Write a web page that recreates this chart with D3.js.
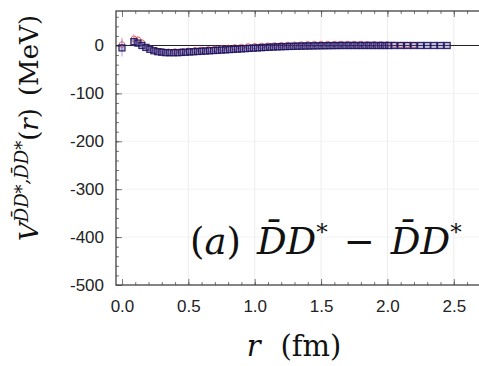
<!DOCTYPE html>
<html>
<head>
<meta charset="utf-8">
<script src="https://cdn.jsdelivr.net/npm/d3@7"></script>
<style>
  body { margin: 0; background: #fff; }
  .tick text { font-family: "Liberation Sans", Arial, sans-serif; }
</style>
</head>
<body>
<svg id="chart" width="479" height="366"></svg>
<script>
// blue series (D̄D* - D̄D*), r in fm, V in MeV
var rBlue = [0.00, 0.09, 0.12, 0.15, 0.18, 0.21, 0.24, 0.27, 0.30, 0.33, 0.36, 0.39, 0.42, 0.45, 0.48,
  0.51, 0.54, 0.57, 0.60, 0.63, 0.66, 0.69, 0.72, 0.75, 0.78, 0.81, 0.84, 0.87, 0.90, 0.93,
  0.96, 0.99, 1.02, 1.05, 1.08, 1.11, 1.14, 1.17, 1.20, 1.23, 1.26, 1.29, 1.32, 1.35, 1.38,
  1.41, 1.44, 1.47, 1.50, 1.53, 1.56, 1.59, 1.62, 1.65, 1.68, 1.71, 1.74, 1.77, 1.80, 1.83,
  1.86, 1.89, 1.92, 1.95, 1.98, 2.01, 2.05, 2.10, 2.15, 2.20, 2.25, 2.30, 2.35, 2.40, 2.45];
var vBlue = [-5, 8, 5, 0, -4, -8, -11, -13, -14, -15, -15, -15, -15, -14.5, -14,
  -13.5, -13, -12.5, -12, -11.5, -11, -10.5, -10, -9.5, -9, -8.5, -8, -7.5, -7, -6.5,
  -6, -5.5, -5, -4.5, -4, -3.6, -3.2, -2.8, -2.5, -2.2, -2, -1.8, -1.5, -1.3, -1.1,
  -1, -0.8, -0.6, -0.5, -0.4, -0.3, -0.2, -0.1, 0, 0, 0, 0, 0, 0, 0,
  0, 0, 0, 0, 0, 0, 0, 0, 0, 0, 0, 0, 0, 0, 0];
var eBlue = [18, 10, 8, 6, 5, 4, 3, 3, 2, 2];

// red series
var rRed = [0.00, 0.09, 0.12, 0.15, 0.20, 0.25, 0.30, 0.35, 0.40, 0.45, 0.50, 0.55, 0.60, 0.65, 0.70,
  0.75, 0.80, 0.85, 0.90, 0.95, 1.00, 1.05, 1.10, 1.15, 1.20, 1.25, 1.30, 1.35, 1.40, 1.45,
  1.50, 1.55, 1.60, 1.65, 1.70, 1.75, 1.80, 1.85, 1.90, 1.95, 2.00, 2.05, 2.10, 2.15, 2.20];
var vRed = [2, 14, 12, 6, -4, -10, -12, -13, -12.5, -12, -11, -10, -9, -8, -7,
  -6, -5, -4, -3, -2, -1.5, -1, -0.5, 0, 0.5, 1, 1.5, 2, 2.5, 3,
  3, 3, 3, 3, 3, 3, 3, 2.5, 2.5, 2, 2, 1.5, 1, 1, 0.5];
var eRed = [15, 10, 8, 6, 4, 3, 3, 2];

var xTicks = [0, 0.5, 1.0, 1.5, 2.0, 2.5];
var yTicks = [0, -100, -200, -300, -400, -500];

var svg = d3.select("#chart");
var L = 116, T = 11, R = 481, B = 285;

var x = d3.scaleLinear().domain([-0.045, 2.705]).range([L, R]);
var y = d3.scaleLinear().domain([-500, 72]).range([B, T]);

// faint grid
var grid = svg.append("g");
grid.selectAll(".vg").data(xTicks.slice(1)).enter().append("line")
  .attr("x1", function(d){ return x(d); }).attr("x2", function(d){ return x(d); })
  .attr("y1", T).attr("y2", B)
  .style("stroke", "#ececec").style("stroke-width", 1);
grid.selectAll(".hg").data(yTicks.slice(1, -1)).enter().append("line")
  .attr("x1", L).attr("x2", R)
  .attr("y1", function(d){ return y(d); }).attr("y2", function(d){ return y(d); })
  .style("stroke", "#f2f2f2").style("stroke-width", 1);

// axes
var xAxis = svg.append("g").attr("transform", "translate(0," + B + ")")
  .call(d3.axisBottom(x).tickValues(xTicks).tickSize(-6).tickPadding(15)
    .tickFormat(d3.format(".1f")));
var xMinor = svg.append("g").attr("transform", "translate(0," + B + ")")
  .call(d3.axisBottom(x).tickValues(d3.range(1, 27).map(function(i){ return i / 10; }))
    .tickSize(-3).tickFormat(""));
var xTop = svg.append("g").attr("transform", "translate(0," + T + ")")
  .call(d3.axisTop(x).tickValues(xTicks).tickSize(-6).tickFormat(""));
var xTopMinor = svg.append("g").attr("transform", "translate(0," + T + ")")
  .call(d3.axisTop(x).tickValues(d3.range(1, 27).map(function(i){ return i / 10; }))
    .tickSize(-3).tickFormat(""));
var yAxis = svg.append("g").attr("transform", "translate(" + L + ",0)")
  .call(d3.axisLeft(y).tickValues(yTicks).tickSize(-6).tickPadding(12)
    .tickFormat(function(d){ return String(d); }));
var yMinor = svg.append("g").attr("transform", "translate(" + L + ",0)")
  .call(d3.axisLeft(y).tickValues(d3.range(-480, 70, 20)).tickSize(-3).tickFormat(""));

svg.selectAll(".domain").remove();
svg.selectAll(".tick line").style("stroke", "#555").style("stroke-width", 0.8);
xAxis.selectAll("text").style("font-size", "17px").style("fill", "#222");
yAxis.selectAll("text").style("font-size", "17px").style("fill", "#222");

// frame
svg.append("rect").attr("x", L).attr("y", T).attr("width", R - L).attr("height", B - T)
  .style("fill", "none").style("stroke", "#333").style("stroke-width", 1.2);

// zero line
svg.append("line").attr("x1", L).attr("x2", R).attr("y1", y(0)).attr("y2", y(0))
  .style("stroke", "#222").style("stroke-width", 1);

var clip = svg.append("defs").append("clipPath").attr("id", "clip")
  .append("rect").attr("x", L).attr("y", T).attr("width", R - L).attr("height", B - T);
var plot = svg.append("g").attr("clip-path", "url(#clip)");

// red points (circles)
plot.selectAll(".eR").data(eRed).enter().append("line")
  .attr("x1", function(d, i){ return x(rRed[i]); }).attr("x2", function(d, i){ return x(rRed[i]); })
  .attr("y1", function(d, i){ return y(vRed[i] + d); }).attr("y2", function(d, i){ return y(vRed[i] - d); })
  .style("stroke", "#f08080").style("stroke-width", 1).style("opacity", 0.6);
plot.selectAll(".pR").data(rRed).enter().append("circle")
  .attr("cx", function(d){ return x(d); })
  .attr("cy", function(d, i){ return y(vRed[i]); })
  .attr("r", 2.8)
  .style("fill", "none").style("stroke", "#e23a3a").style("stroke-width", 1).style("opacity", 0.75);

// blue points (squares)
plot.selectAll(".eB").data(eBlue).enter().append("line")
  .attr("x1", function(d, i){ return x(rBlue[i]); }).attr("x2", function(d, i){ return x(rBlue[i]); })
  .attr("y1", function(d, i){ return y(vBlue[i] + d); }).attr("y2", function(d, i){ return y(vBlue[i] - d); })
  .style("stroke", "#8a7fd0").style("stroke-width", 1).style("opacity", 0.7);
plot.selectAll(".pB").data(rBlue).enter().append("rect")
  .attr("x", function(d){ return x(d) - 3; })
  .attr("y", function(d, i){ return y(vBlue[i]) - 3; })
  .attr("width", 6).attr("height", 6)
  .style("fill", "#5a4fa8").style("fill-opacity", 0.35)
  .style("stroke", "#1c1460").style("stroke-width", 1.3).style("opacity", 0.9);

// panel label
var serif = "'DejaVu Serif', 'Liberation Serif', serif";
var lab = svg.append("text").attr("x", 190).attr("y", 254)
  .style("font-family", serif).style("font-size", "37px")
  .style("fill", "#111");
lab.append("tspan").text("(");
lab.append("tspan").style("font-style", "italic").text("a");
lab.append("tspan").text(")");
lab.append("tspan").attr("dx", 16).style("font-style", "italic").text("D\u0304D");
lab.append("tspan").attr("dy", -14).style("font-size", "23px").text("*");
lab.append("tspan").attr("dy", 14).attr("dx", 16).text("\u2212");
lab.append("tspan").attr("dx", 16).style("font-style", "italic").text("D\u0304D");
lab.append("tspan").attr("dy", -14).style("font-size", "23px").text("*");

// x title
var xt = svg.append("text").attr("x", 294).attr("y", 356).attr("text-anchor", "middle")
  .style("font-family", serif).style("font-size", "29px")
  .style("fill", "#111");
xt.append("tspan").style("font-style", "italic").text("r");
xt.append("tspan").attr("dx", 20).text("(fm)");

// y title
var yt = svg.append("text").attr("transform", "translate(38,128) rotate(-90)")
  .attr("text-anchor", "middle")
  .style("font-family", serif).style("font-size", "26px")
  .style("fill", "#111");
yt.append("tspan").style("font-style", "italic").text("V");
yt.append("tspan").attr("dy", -10).style("font-size", "18px").style("font-style", "italic")
  .text("D\u0304D*,D\u0304D*");
yt.append("tspan").attr("dy", 10).text("(");
yt.append("tspan").style("font-style", "italic").text("r");
yt.append("tspan").text(")");
yt.append("tspan").attr("dx", 12).text("(MeV)");
</script>
</body>
</html>
